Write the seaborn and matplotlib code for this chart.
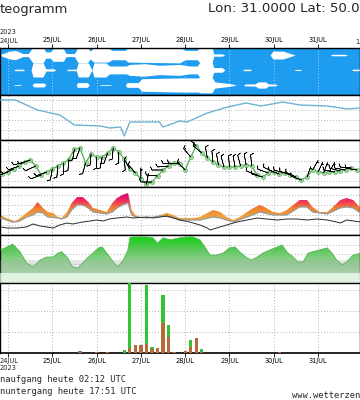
import numpy as np
import matplotlib
matplotlib.use("Agg")
import matplotlib.pyplot as plt
from matplotlib.colors import LinearSegmentedColormap
import seaborn as sns
import pandas as pd

# ---------------- data ----------------
day_labels = ["24JUL", "25JUL", "26JUL", "27JUL", "28JUL", "29JUL", "30JUL", "31JUL"]

# cloud cover (0..1) per layer, hours since 24JUL 00 UTC
high_h = [-4, 1, 4, 8, 11, 13.5, 19, 20.5, 23, 24.5, 30, 31.5, 36, 38, 43, 44.5, 46.5, 54, 56.5, 63.5,
          65, 93, 96, 102.5, 104, 110.5, 111.5, 116, 117.5, 142, 143.5, 149, 153, 155.5, 174.5, 176,
          182.5, 184, 191]
high_c = [0.1, 0.5, 0.6, 0.2, 0.2, 1.0, 1.0, 0.4, 0.4, 0.8, 0.8, 0.2, 0.2, 1.0, 1.0, 0.5, 0.9, 0.9, 0.6, 0.6,
          0.9, 1.0, 0.6, 0.6, 1.0, 1.0, 0.15, 0.15, 0.0, 0.0, 0.5, 0.5, 0.2, 0.0, 0.0, 0.1,
          0.1, 0.0, 0.0]
mid_h = [-4, 3, 4, 8, 9, 12.5, 13.5, 19, 20.5, 24.5, 26, 31.5, 32.5, 37, 38, 43.5, 45.5, 46.5, 53, 55,
         64, 66, 74, 82, 93, 98.5, 102.5, 104, 110.5, 111.5, 116, 117.5, 127, 128, 131, 132, 155, 156,
         158, 159, 186, 187, 191]
mid_c = [0, 0, 0.1, 0.1, 0, 0, 0.9, 0.9, 0.15, 0.15, 0, 0, 0.1, 0.1, 0.9, 0.9, 0, 0.9, 0.9, 0.5,
         0.5, 0.7, 0.8, 0.6, 0.7, 0.5, 0.5, 1.0, 1.0, 0.3, 0.3, 0, 0, 0.1, 0.1, 0, 0, 0.08,
         0.08, 0, 0, 0.1, 0.1]
low_h = [-4, 3, 3.5, 6.5, 7.5, 13, 14, 19.5, 20.5, 37, 37.5, 43, 44, 49.5, 50, 55, 56.5, 63.5, 64.5, 70.5,
         72.5, 93, 103, 104, 110.5, 112, 117.5, 122, 123.5, 127.5, 128.5, 134, 135.5, 139.5, 141, 145,
         146, 191]
low_c = [0, 0, 0.05, 0.05, 0, 0, 0.25, 0.25, 0, 0, 0.3, 0.3, 0, 0, 0.05, 0.05, 0, 0, 0.3, 0.3,
         0.8, 0.9, 0.9, 1.0, 1.0, 0.4, 0.25, 0.1, 0, 0, 0.12, 0.15, 0.4, 0.4, 0.15, 0.1,
         0, 0]

# sea level pressure (hPa)
pres_h = [-4, 4, 16, 28, 36, 50, 55, 61, 63, 66, 82, 84, 93, 97, 108, 119, 129, 137, 149, 158, 173, 184, 191]
pres_v = [1020, 1020, 1015, 1012.5, 1007.5, 1007, 1006, 1006.5, 1002, 1009, 1009, 1006.5, 1009.5, 1009,
          1013.5, 1016.5, 1018.5, 1017, 1019, 1017.5, 1017, 1015.5, 1016]

# 2 m temperature (3-hourly)
temp_h = list(range(-3, 190, 3))
temp_v = [18.5, 19.5, 21, 22.5, 24.5, 25.5, 22.5, 18, 19.5, 21, 22.5, 24, 25.8, 31, 31.5, 24, 28.5, 27, 27,
          29, 31.5, 29.5, 26, 21, 19, 16, 13.3, 14.5, 17.5, 20.5, 22.5, 23.8, 23.5, 20.5, 27, 32.5, 29,
          26.5, 24.5, 23, 22, 22, 22, 22.5, 23, 22.5, 18, 17, 19, 19.5, 18.5, 19, 18, 17, 15.5, 17,
          20.5, 19.5, 19, 19.5, 19.5, 20, 20.5, 21.5, 20.5]

# wind (3-hourly, same times as temperature): direction from (deg), speed (kt)
wind_dir = [250, 250, 245, 250, 255, 250, 245, 250, 250,
            190, 185, 180, 185, 190, 200, 195, 185, 180, 190, 200, 185, 180, 175,
            330, 320, 360, 10,
            270, 275, 270, 265, 270, 275,
            315, 320, 315, 310,
            350, 355, 350, 345, 355, 350, 345, 350, 355,
            290, 285, 290, 295, 290, 285, 290, 295, 290,
            20, 30, 25, 20, 30,
            280, 285, 280, 275, 280]
wind_spd = [10, 10, 10, 10, 8, 8, 10, 10, 10,
            10, 10, 12, 10, 10, 10, 12, 10, 10, 10, 10, 10, 10, 10,
            10, 10, 5, 5,
            10, 10, 10, 10, 10, 10,
            15, 15, 15, 15,
            10, 10, 10, 10, 10, 10, 10, 10, 10,
            10, 12, 12, 12, 10, 10, 10, 10, 10,
            5, 5, 5, 5, 5,
            10, 10, 10, 10, 10]

# temperature band (upper / lower edge) and dark line
band_top_h = [-4, -2, 2, 4, 6.5, 10, 13.5, 16, 19, 21.5, 24.5, 27, 29, 32, 34.5, 37.5, 40.5, 43.5, 46, 50,
              53.5, 56.5, 59, 62, 65, 67, 69, 71.5, 75.5, 78.5, 82.5, 86, 89.5, 93, 97, 100, 104, 108,
              111, 115, 118.5, 122, 125.5, 129.5, 133, 136.5, 140, 143.5, 147.5, 151, 154.5, 158, 162,
              165, 169, 173, 176, 180, 183.5, 187, 191]
band_top_v = [20, 19, 17.5, 17, 18.5, 21, 23.5, 26.5, 23.5, 21.5, 21, 19, 18.5, 21.5, 26, 29, 29, 26.5, 23.5,
              22.5, 21.5, 26, 28.5, 30, 31, 22.5, 20, 19, 19, 19, 20, 21, 20, 18.5, 18.5, 18.5, 19, 21,
              22.5, 21.5, 19, 17.5, 19, 21.5, 23.5, 25, 23.5, 21.5, 21, 22.5, 25, 27.5, 27.5,
              24, 21.5, 21.5, 24, 27.5, 28.5, 27.5, 23.5]
band_bot_h = [-4, 2, 4, 6.5, 10, 13.5, 16, 19, 21.5, 27, 29, 32, 34.5, 37.5, 40.5, 43.5, 46, 50, 53.5, 56.5,
              59, 62, 65, 67, 69, 75.5, 82.5, 89.5, 93, 104, 111, 115, 122, 129.5, 136.5, 143.5, 151,
              158, 162, 165, 173, 180, 183.5, 187, 191]
band_bot_v = [18.5, 16.5, 16.5, 17, 19, 20, 21.5, 21, 19, 18.5, 18, 19, 22.5, 25, 25, 23.5, 21.5, 21, 20.5,
              21.5, 23.5, 25, 26, 20, 19, 18.5, 19.5, 19, 17.5, 17.5, 19, 18.5, 16.5, 19, 21.5, 20, 20,
              24, 24, 21.5, 20.5, 23.5, 24, 23.5, 21]
dark_h = [-4, -0.5, 5, 10, 13.5, 17.5, 21, 24.5, 28, 32, 35, 40.5, 44.5, 48, 51.5, 55, 59, 64.5, 67.5, 75.5,
          78.5, 82.5, 86, 89.5, 93, 98.5, 104, 108, 109.5, 113, 118.5, 124, 129.5, 135, 140, 146, 151,
          156.5, 162, 167.5, 173, 178, 180, 183.5, 191]
dark_v = [14, 13.5, 13.5, 14, 15.5, 14.5, 14, 13.5, 15, 16, 15.5, 16.5, 17, 17.5, 17, 18, 18.5, 19, 18.5, 19,
          18.5, 19, 19.5, 18.5, 17.5, 16.5, 15, 13.5, 12.5, 13.5, 15, 16.5, 17.5, 18.5, 18, 17.5, 18,
          18, 17.5, 18, 17.5, 16.5, 16, 17.5, 16.5]

# relative humidity (%)
rh_h = [-4, -0.5, 2.5, 6.5, 10, 13.5, 17.5, 21, 24.5, 27, 29, 32, 35, 38, 40.5, 43.5, 46, 49, 51, 53.5, 57,
        59.5, 62.5, 65, 66, 67.5, 75.5, 78.5, 81, 84, 88, 93, 97, 100, 104, 107, 109.5, 113, 116.5, 120,
        123, 125.5, 129.5, 132, 135, 138, 142, 146, 148.5, 151, 154.5, 157, 160, 162.5, 165, 169, 173,
        175.5, 178, 181, 183.5, 187, 191]
rh_v = [69, 75, 81, 65, 42, 33, 48, 54, 54, 62, 65, 54, 33, 31, 42, 54, 62, 73, 75, 62, 44,
        33, 48, 69, 94, 96, 96, 94, 83, 94, 90, 94, 96, 96, 90, 73, 58, 58, 62, 73,
        75, 65, 52, 48, 54, 62, 69, 75, 79, 65, 54, 44, 44, 62, 65, 69, 73,
        62, 48, 38, 44, 58, 62]

# precipitation (mm / 3 h): total and convective
prec_h = [39, 48, 54, 63, 66, 69, 72, 75, 78, 81, 84, 87, 90, 96, 99, 102, 105, 147]
prec_tot = [0.1, 0.05, 0.05, 0.15, 3.5, 0.4, 0.4, 3.25, 0.3, 0.25, 2.75, 1.35, 0.05, 0.08, 0.62, 0.72, 0.2, 0.05]
prec_conv = [0.1, 0.05, 0.05, 0.0, 0.25, 0.4, 0.4, 0.45, 0.2, 0.25, 1.45, 0.75, 0.05, 0.08, 0.3, 0.72, 0.05, 0.05]

# ---------------- style ----------------
sns.set_theme(style="white")
plt.rcParams["font.family"] = ["DejaVu Sans"]

W, H = 360, 400
fig = plt.figure(figsize=(W / 100, H / 100), dpi=100)
XL = (-8 / 44.3, (W - 8) / 44.3)
days = np.arange(len(day_labels))
TICK_FS = 4.8


def panel(top, bottom):
    ax = fig.add_axes([0, 1 - bottom / H, 1, (bottom - top) / H])
    ax.set_xlim(*XL)
    ax.set_xticks([])
    ax.set_yticks([])
    for s in ax.spines.values():
        s.set_color("black")
        s.set_linewidth(1.0)
    return ax


def hgrid(ax, levels, color="#9a9a9a"):
    for lv in levels:
        ax.axhline(lv, color=color, lw=0.6, ls=(0, (1, 2.5)), zorder=1)


def vgrid(ax, color="#9a9a9a"):
    for dd in days:
        ax.axvline(dd, color=color, lw=0.6, ls=(0, (1, 2.5)), zorder=1)


def d(hours):
    return np.asarray(hours, dtype=float) / 24.0


# ---- clouds ----
axc = panel(48, 95)
axc.set_facecolor("#1e9cf0")
axc.set_ylim(0, 3)
hh = 0.5
for hrs, cov, cen in [(high_h, high_c, 2.55), (mid_h, mid_c, 1.6), (low_h, low_c, 0.64)]:
    c = np.asarray(cov)
    axc.fill_between(d(hrs), cen - c * hh, cen + c * hh, color="white", lw=0, zorder=2)
vgrid(axc, color="#cfe8fb")
axc.xaxis.tick_top()
axc.set_xticks(days)
axc.set_xticklabels([""] + day_labels[1:])
axc.tick_params(axis="x", top=True, bottom=False, length=3, width=0.6, pad=0.5,
                labelsize=TICK_FS, colors="black", direction="out")

# ---- pressure ----
axp = panel(95, 140)
axp.set_ylim(1000, 1022.5)
hgrid(axp, [1005, 1010, 1015, 1020])
vgrid(axp)
sns.lineplot(x=d(pres_h), y=pres_v, ax=axp, color="#6db3d2", lw=1.0, zorder=3)

# ---- temperature + wind ----
axt = panel(140, 187)
axt.set_ylim(12, 35.5)
hgrid(axt, [15, 20, 25, 30, 35])
vgrid(axt)
sns.lineplot(x=d(temp_h), y=temp_v, ax=axt, color="#4caf4c", lw=0.9, zorder=3)
sns.scatterplot(x=d(temp_h), y=temp_v, ax=axt, color="#9ad89a", edgecolor="#5aa85a",
                linewidth=0.4, s=9, zorder=4)
wd = np.deg2rad(np.asarray(wind_dir, dtype=float))
ws = np.asarray(wind_spd, dtype=float)
axt.barbs(d(temp_h), temp_v, -ws * np.sin(wd), -ws * np.cos(wd), length=4.0, lw=0.45,
          color="black", zorder=5, sizes=dict(emptybarb=0.0, spacing=0.15, height=0.28))

# ---- temperature band ----
axb = panel(187, 235)
axb.set_ylim(10, 34)
hgrid(axb, [15, 20, 25, 30])
vgrid(axb)
poly_x = np.concatenate([d(band_top_h), d(band_bot_h)[::-1]])
poly_y = np.concatenate([band_top_v, band_bot_v[::-1]])
patch = axb.fill(poly_x, poly_y, color="none", lw=0)[0]
band_cmap = LinearSegmentedColormap.from_list(
    "band", [(0, "#eea43e"), (0.4, "#f2802e"), (0.7, "#ee3a58"), (1, "#e0047a")])
grad = np.linspace(14, 34, 200).reshape(-1, 1)
im = axb.imshow(grad, extent=[XL[0], XL[1], 14, 34], origin="lower", aspect="auto",
                cmap=band_cmap, vmin=19, vmax=30, zorder=2)
im.set_clip_path(patch)
sns.lineplot(x=d(band_bot_h), y=band_bot_v, ax=axb, color="#9a9a9a", lw=0.9, zorder=3)
sns.lineplot(x=d(dark_h), y=dark_v, ax=axb, color="#2a2a2a", lw=0.7, zorder=3)
axb.set_xlim(*XL)
axb.set_ylim(10, 34)

# ---- humidity ----
axh = panel(235, 283)
axh.set_ylim(0, 100)
hgrid(axh, [20, 40, 60, 80])
vgrid(axh)
rpatch = axh.fill_between(d(rh_h), 0, rh_v, color="none", lw=0)
rh_cmap = LinearSegmentedColormap.from_list(
    "rh", [(0, "#c9e9c9"), (0.45, "#8fd28f"), (0.7, "#5cc65c"), (1, "#08d408")])
g2 = np.linspace(0, 100, 200).reshape(-1, 1)
im2 = axh.imshow(g2, extent=[XL[0], XL[1], 0, 100], origin="lower", aspect="auto",
                 cmap=rh_cmap, vmin=0, vmax=100, zorder=2)
im2.set_clip_path(rpatch.get_paths()[0], transform=axh.transData)
sns.lineplot(x=d(rh_h), y=rh_v, ax=axh, color="#5cb85c", lw=0.7, zorder=3)
axh.axhspan(21, 48, color="#9aa89a", alpha=0.28, lw=0, zorder=4)
axh.axhspan(0, 21, color="#eef8ee", alpha=0.75, lw=0, zorder=4)
axh.set_xlim(*XL)
axh.set_ylim(0, 100)

# ---- precipitation ----
axr = panel(283, 353)
axr.set_ylim(0, 3.33)
hgrid(axr, [1, 2, 3])
vgrid(axr)
axr.bar(d(prec_h), prec_tot, width=1.8 / 24, color="#33c233", lw=0, zorder=3)
axr.bar(d(prec_h), prec_conv, width=1.8 / 24, color="#b86a3a", lw=0, zorder=4)
axr.set_xticks(days)
axr.set_xticklabels([""] + day_labels[1:])
axr.tick_params(axis="x", bottom=True, length=3, width=0.6, pad=0.5, labelsize=TICK_FS,
                colors="black", direction="out")
axr.spines["bottom"].set_linewidth(1.2)

for ax in [axc, axp, axt, axb, axh, axr]:
    ax.set_xlabel("")
    ax.set_ylabel("")
    ax.set_xlim(*XL)

# ---------------- texts ----------------
fig.text(0.0, 1 - 9 / H, "teogramm", fontsize=9.4, ha="left", va="center")
fig.text(1.0, 1 - 9 / H, "Lon: 31.0000 Lat: 50.0", fontsize=9.6, ha="right", va="center")
fig.text(0.0, 1 - 32 / H, "2023", fontsize=TICK_FS, ha="left", va="center")
fig.text(0.0, 1 - 41.5 / H, day_labels[0], fontsize=TICK_FS, ha="left", va="center")
fig.text(355 / W, 1 - 41.5 / H, "1.", fontsize=TICK_FS, ha="left", va="center")
fig.text(0.0, 1 - 360.5 / H, day_labels[0], fontsize=TICK_FS, ha="left", va="center")
fig.text(0.0, 1 - 367.5 / H, "2023", fontsize=TICK_FS, ha="left", va="center")
fig.text(0.0, 1 - 380 / H, "naufgang heute 02:12 UTC", fontsize=6.3, ha="left", va="center",
         family="DejaVu Sans Mono")
fig.text(0.0, 1 - 391 / H, "nuntergang heute 17:51 UTC", fontsize=6.3, ha="left", va="center",
         family="DejaVu Sans Mono")
fig.text(1.0, 1 - 395 / H, "www.wetterzen", fontsize=6.3, ha="right", va="center",
         family="DejaVu Sans Mono")

fig.savefig("out.png", dpi=100)
